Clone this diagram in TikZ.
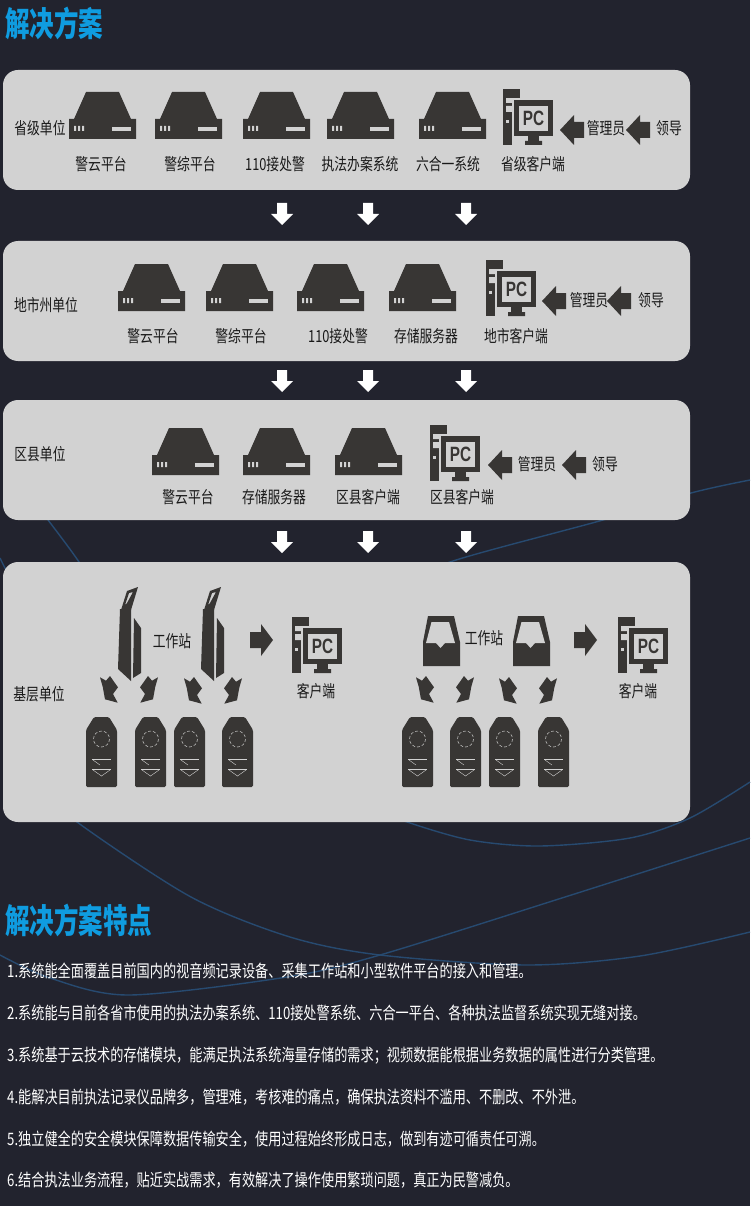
\documentclass[tikz,border=0pt]{standalone}
\usepackage{graphicx}
\usepackage{fontspec}
\newfontfamily\cjk{Noto Sans CJK SC}
\newfontfamily\pcfont{Liberation Sans}
\definecolor{bgc}{HTML}{22232E}
\definecolor{boxc}{HTML}{D2D2D2}
\definecolor{ico}{HTML}{383634}
\definecolor{curve}{HTML}{274A70}
\definecolor{headc}{HTML}{0F9CE0}
\newcommand{\tall}[1]{\scalebox{1}[1.3]{#1}}
\newcommand{\head}[1]{\scalebox{1}[1.38]{#1}}
\tikzset{
  x=1pt,y=-1pt,
  panel/.style={fill=boxc,draw=none,rounded corners=15pt},
  lab/.style={font=\cjk\fontsize{12.8}{14}\selectfont,text=black!90,inner sep=0pt},
  bullet/.style={font=\cjk\fontsize{13.17}{15}\selectfont,text=white,inner sep=0pt,anchor=west},
  heading/.style={font=\cjk\bfseries\fontsize{24.5}{28}\selectfont,text=headc,inner sep=0pt,anchor=west},
  bgline/.style={draw=curve,line width=1.4pt},
  server/.pic={
    \fill[ico] (17,0)--(50,0)--(62,27)--(67,27)--(67,47)--(0,47)--(0,27)--(5,27)--cycle;
    \fill[boxc] (5,34) rectangle (7,39) (9,34) rectangle (11,39) (13,34) rectangle (15,39);
    \fill[boxc] (43,35) rectangle (62,39);
  },
  pcicon/.pic={
    \fill[ico] (0,0) rectangle (17,56);
    \fill[boxc] (3,9) rectangle (10,14) (3,17) rectangle (10,23);
    \fill[boxc] (3,31) rectangle (6,34);
    \fill[boxc] (9,9) rectangle (17,56);
    \fill[ico] (0,0) rectangle (17,9);
    \fill[ico] (11,11) rectangle (50,47);
    \fill[boxc] (16,17) rectangle (45,42);
    \fill[ico] (25,47) rectangle (33,52) (22,52) rectangle (39,56);
    \fill[ico] (25,47) rectangle (36,52);
    \node[inner sep=0pt,text=ico] (pctxt) at (30.5,29.5) {\pcfont\bfseries\fontsize{18}{18}\selectfont\scalebox{0.85}[1.15]{PC}};
  },
  larrow/.pic={
    \fill[ico] (0,0)--(14,-15)--(14,-8)--(24,-8)--(24,8)--(14,8)--(14,15)--cycle;
  },
  rarrow/.pic={
    \fill[ico] (23,0)--(11,-16)--(11,-8)--(0,-8)--(0,8)--(11,8)--(11,16)--cycle;
  },
  darrow/.pic={
    \fill[white] (-5,0)--(5,0)--(5,11)--(11,11)--(0,22)--(-11,11)--(-5,11)--cycle;
  },
  kiosk/.pic={
    \fill[ico] (0,-3)--(11,-3)--(11,69)--(-2,57)--cycle;
    \fill[ico] (14,6)--(21,16)--(21,61)--(13,66)--cycle;
    \fill[ico,even odd rule] (1,-2)--(7,-21)--(18,-25)--(11,-2)--cycle (7,-9)--(13,-20)--(9,-19)--(5,-7)--cycle;
  },
  crown/.pic={
    \fill[ico] (0,1.3)--(6,4.7)--(10,0)--(14,5.7)--(18,11.3)--(13,18)--(17.7,26.7)--(5,23.3)--(2.7,10.7)--cycle;
  },
  device/.pic={
    \fill[ico,rounded corners=1.5pt] (8,0)--(23,0)--(31,13)--(31,70)--(0,70)--(0,13)--cycle;
    \draw[boxc,line width=0.5pt,dash pattern=on 3pt off 2pt] (15.5,22) circle (8);
    \draw[boxc,line width=0.5pt] (6,42)--(25,42) (6,52)--(25,52);
    \draw[boxc,line width=0.4pt] (7,43)--(14,48) (24,53)--(15.5,59)--(7,53);
  },
  tray/.pic={
    \fill[ico] (5,0)--(31,0)--(37,26)--(37,50)--(0,50)--(0,26)--cycle;
    \fill[boxc] (8.5,6)--(26,6)--(32,27)--(22,27)--(17.5,32)--(13,27)--(3,27)--cycle;
  }
}
\begin{document}
\begin{tikzpicture}
\useasboundingbox (0,0) rectangle (750,1206);
\fill[bgc] (0,0) rectangle (750,1206);
% background curves
\draw[bgline] plot[smooth] coordinates {(750,480) (691,493) (603,520) (450,562) (400,590)};
\draw[bgline] plot[smooth] coordinates {(48,520) (79,562) (100,600)};
\draw[bgline] plot[smooth] coordinates {(0,558) (5,568) (12,580)};
\draw[bgline] plot[smooth] coordinates {(60,800) (77,822) (191,897) (290,937) (380,955) (526,965) (640,956) (750,932)};
\draw[bgline] plot[smooth] coordinates {(0,955) (50,978) (129,995) (287,977) (380,955) (565,897) (750,838)};
\draw[bgline] plot[smooth] coordinates {(380,810) (407,822) (470,840) (540,846) (630,838) (690,818) (750,782)};
% panels
\path[panel] (3,70) rectangle (690,190);
\path[panel] (3,241) rectangle (690,361);
\path[panel] (3,400) rectangle (690,520);
\path[panel] (3,562) rectangle (690,822);
% headings
\node[heading] (h1) at (5,23) {\head{解决方案}};
\node[heading] (h2) at (5,920) {\head{解决方案特点}};
% row 1
\pic at (69,92) {server}; \pic at (155,92) {server}; \pic at (243,92) {server}; \pic at (327,92) {server}; \pic at (419,92) {server};
\pic (a) at (503,89) {pcicon};
\pic at (560,130) {larrow}; \pic at (626,130) {larrow};
\node[lab] (r1u) at (40,128) {\tall{省级单位}};
\node[lab] (r1a) at (101,164) {\tall{警云平台}};
\node[lab] (r1b) at (190,164) {\tall{警综平台}};
\node[lab] (r1c) at (275,164) {\tall{110接处警}};
\node[lab] (r1d) at (360,164) {\tall{执法办案系统}};
\node[lab] (r1e) at (448,164) {\tall{六合一系统}};
\node[lab] (r1f) at (533,164) {\tall{省级客户端}};
\node[lab] (r1g) at (606,128) {\tall{管理员}};
\node[lab] (r1h) at (669,128) {\tall{领导}};
\pic at (282,203) {darrow}; \pic at (368,203) {darrow}; \pic at (466,203) {darrow};
% row 2
\pic at (118,264) {server}; \pic at (206,264) {server}; \pic at (297,264) {server}; \pic at (389,264) {server};
\pic (b) at (486,260) {pcicon};
\pic at (542,301) {larrow}; \pic at (607,301) {larrow};
\node[lab] (r2u) at (46,305) {\tall{地市州单位}};
\node[lab] (r2a) at (153,336) {\tall{警云平台}};
\node[lab] (r2b) at (241,336) {\tall{警综平台}};
\node[lab] (r2c) at (338,336) {\tall{110接处警}};
\node[lab] (r2d) at (426,336) {\tall{存储服务器}};
\node[lab] (r2e) at (516,336) {\tall{地市客户端}};
\node[lab] (r2f) at (589,300) {\tall{管理员}};
\node[lab] (r2g) at (651,300) {\tall{领导}};
\pic at (282,370) {darrow}; \pic at (368,370) {darrow}; \pic at (466,370) {darrow};
% row 3
\pic at (152,428) {server}; \pic at (243,428) {server}; \pic at (335,428) {server};
\pic (c) at (430,425) {pcicon};
\pic at (488,465) {larrow}; \pic at (562,465) {larrow};
\node[lab] (r3u) at (40,454) {\tall{区县单位}};
\node[lab] (r3a) at (188,497) {\tall{警云平台}};
\node[lab] (r3b) at (274,497) {\tall{存储服务器}};
\node[lab] (r3c) at (368,497) {\tall{区县客户端}};
\node[lab] (r3d) at (462,497) {\tall{区县客户端}};
\node[lab] (r3e) at (537,464) {\tall{管理员}};
\node[lab] (r3f) at (605,464) {\tall{领导}};
\pic at (282,531) {darrow}; \pic at (368,531) {darrow}; \pic at (466,531) {darrow};
% row 4 left
\node[lab] (r4u) at (39,694) {\tall{基层单位}};
\pic at (120,612) {kiosk}; \pic at (203,612) {kiosk};
\node[lab] (r4a) at (172,641) {\tall{工作站}};
\pic at (250,640) {rarrow};
\pic (d) at (292,617) {pcicon};
\node[lab] (r4b) at (316,691) {\tall{客户端}};
\pic at (100,676) {crown}; \pic[xscale=-1] at (158,676) {crown}; \pic at (184,677) {crown}; \pic[xscale=-1] at (242,677) {crown};
\pic at (86,717) {device}; \pic at (135,717) {device}; \pic at (174,717) {device}; \pic at (222,717) {device};
% row 4 right
\pic at (423,616) {tray}; \pic at (513,616) {tray};
\node[lab] (r4c) at (484,638) {\tall{工作站}};
\pic at (574,640) {rarrow};
\pic (e) at (618,617) {pcicon};
\node[lab] (r4d) at (638,691) {\tall{客户端}};
\pic at (416,676) {crown}; \pic[xscale=-1] at (474,676) {crown}; \pic at (499,677) {crown}; \pic[xscale=-1] at (557,677) {crown};
\pic at (402,717) {device}; \pic at (450,717) {device}; \pic at (489,717) {device}; \pic at (538,717) {device};
% bullets
\node[bullet] (t1) at (7,971) {\tall{1.系统能全面覆盖目前国内的视音频记录设备、采集工作站和小型软件平台的接入和管理。}};
\node[bullet] (t2) at (7,1013) {\tall{2.系统能与目前各省市使用的执法办案系统、110接处警系统、六合一平台、各种执法监督系统实现无缝对接。}};
\node[bullet] (t3) at (7,1056) {\tall{3.系统基于云技术的存储模块，能满足执法系统海量存储的需求；视频数据能根据业务数据的属性进行分类管理。}};
\node[bullet] (t4) at (7,1097) {\tall{4.能解决目前执法记录仪品牌多，管理难，考核难的痛点，确保执法资料不滥用、不删改、不外泄。}};
\node[bullet] (t5) at (7,1139) {\tall{5.独立健全的安全模块保障数据传输安全，使用过程始终形成日志，做到有迹可循责任可溯。}};
\node[bullet] (t6) at (7,1180) {\tall{6.结合执法业务流程，贴近实战需求，有效解决了操作使用繁琐问题，真正为民警减负。}};
\end{tikzpicture}
\end{document}
